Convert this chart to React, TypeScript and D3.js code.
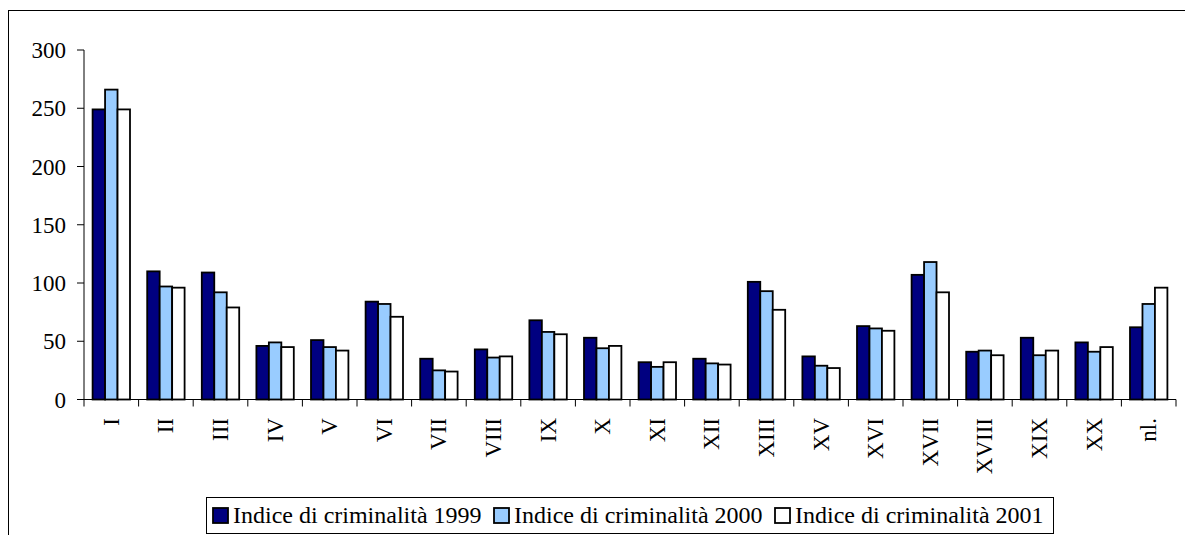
import React, { useRef, useEffect } from "react";
import * as d3 from "d3";

// circoscrizioni
const categories = ["I", "II", "III", "IV", "V", "VI", "VII", "VIII", "IX", "X", "XI", "XII", "XIII", "XV", "XVI", "XVII", "XVIII", "XIX", "XX", "nl."];
const index1999 = [249, 110, 109, 46, 51, 84, 35, 43, 68, 53, 32, 35, 101, 37, 63, 107, 41, 53, 49, 62];
const index2000 = [266, 97, 92, 49, 45, 82, 25, 36, 58, 44, 28, 31, 93, 29, 61, 118, 42, 38, 41, 82];
const index2001 = [249, 96, 79, 45, 42, 71, 24, 37, 56, 46, 32, 30, 77, 27, 59, 92, 38, 42, 45, 96];
const seriesNames = ["Indice di criminalità 1999", "Indice di criminalità 2000", "Indice di criminalità 2001"];
const seriesColors = ["#000080", "#99ccff", "#ffffff"];
const yTicks = [0, 50, 100, 150, 200, 250, 300];

const W = 1185;
const H = 535;
const FONT = "Liberation Serif, Tinos, DejaVu Serif, Noto Serif, FreeSerif, serif";

const App = () => {
  const svgRef = useRef<SVGSVGElement>(null);

  useEffect(() => {
    const svg = d3.select(svgRef.current);
    svg.selectAll("*").remove();

    const values = [index1999, index2000, index2001];
    const left = 84, right = 1176, top = 50, bottom = 399.5;

    // chart frame (cut by the page edge on right and bottom)
    svg.append("rect")
      .attr("x", 8.5).attr("y", 10.5)
      .attr("width", W + 20).attr("height", H + 20)
      .attr("fill", "#fff").attr("stroke", "#000").attr("stroke-width", 1);

    const x0 = d3.scaleBand().domain(categories).range([left, right]).padding(0);
    const x1 = d3.scaleBand().domain(["0", "1", "2"])
      .range([0, x0.bandwidth()]).paddingInner(0).paddingOuter(0.69);
    const y = d3.scaleLinear().domain([0, 300]).range([bottom, top]);

    // y axis
    const yAxis = svg.append("g");
    yAxis.append("line")
      .attr("x1", left).attr("x2", left).attr("y1", y(300)).attr("y2", y(0))
      .attr("stroke", "#000").attr("stroke-width", 1);
    yAxis.selectAll(".yt").data(yTicks).enter().append("line")
      .attr("x1", left - 7).attr("x2", left)
      .attr("y1", (d) => y(d)).attr("y2", (d) => y(d))
      .attr("stroke", "#000").attr("stroke-width", 1);
    yAxis.selectAll(".yl").data(yTicks).enter().append("text")
      .attr("x", 66).attr("y", (d) => y(d)).attr("dy", "0.35em")
      .attr("text-anchor", "end")
      .attr("font-family", FONT).attr("font-size", 23)
      .text((d) => d);

    // bars
    categories.forEach((cat, i) => {
      const g = svg.append("g").attr("transform", `translate(${x0(cat)},0)`);
      values.forEach((series, s) => {
        g.append("rect")
          .attr("x", x1(String(s)) as number)
          .attr("y", y(series[i]))
          .attr("width", x1.bandwidth())
          .attr("height", y(0) - y(series[i]))
          .attr("fill", seriesColors[s])
          .attr("stroke", "#000")
          .attr("stroke-width", 1.8);
      });
    });

    // x axis
    const xAxis = svg.append("g");
    xAxis.append("line")
      .attr("x1", left).attr("x2", right).attr("y1", bottom).attr("y2", bottom)
      .attr("stroke", "#000").attr("stroke-width", 1);
    const bounds = d3.range(categories.length + 1).map((k) => left + k * x0.step());
    xAxis.selectAll(".xt").data(bounds).enter().append("line")
      .attr("x1", (d) => d).attr("x2", (d) => d)
      .attr("y1", bottom).attr("y2", bottom + 7)
      .attr("stroke", "#000").attr("stroke-width", 1);
    xAxis.selectAll(".xl").data(categories).enter().append("text")
      .attr("transform", (d) => `translate(${(x0(d) as number) + x0.bandwidth() / 2},418) rotate(-90)`)
      .attr("text-anchor", "end")
      .attr("dy", "0.33em")
      .attr("font-family", FONT).attr("font-size", 23)
      .text((d) => d);

    // legend
    const legend = svg.append("g");
    legend.append("rect")
      .attr("x", 206.5).attr("y", 497.5).attr("width", 847).attr("height", 36)
      .attr("fill", "#fff").attr("stroke", "#000").attr("stroke-width", 1);
    seriesNames.forEach((name, s) => {
      const lx = 213 + s * 281;
      legend.append("rect")
        .attr("x", lx).attr("y", 508).attr("width", 15).attr("height", 15)
        .attr("fill", seriesColors[s]).attr("stroke", "#000").attr("stroke-width", 1.8);
      legend.append("text")
        .attr("x", lx + 20).attr("y", 523)
        .attr("font-family", FONT).attr("font-size", 24)
        .text(name);
    });
  }, []);

  return (
    <div style={{ position: "absolute", left: 0, top: 0, width: W, height: H, background: "#fff" }}>
      <svg ref={svgRef} width={W} height={H} style={{ display: "block" }}></svg>
    </div>
  );
};

export default App;
